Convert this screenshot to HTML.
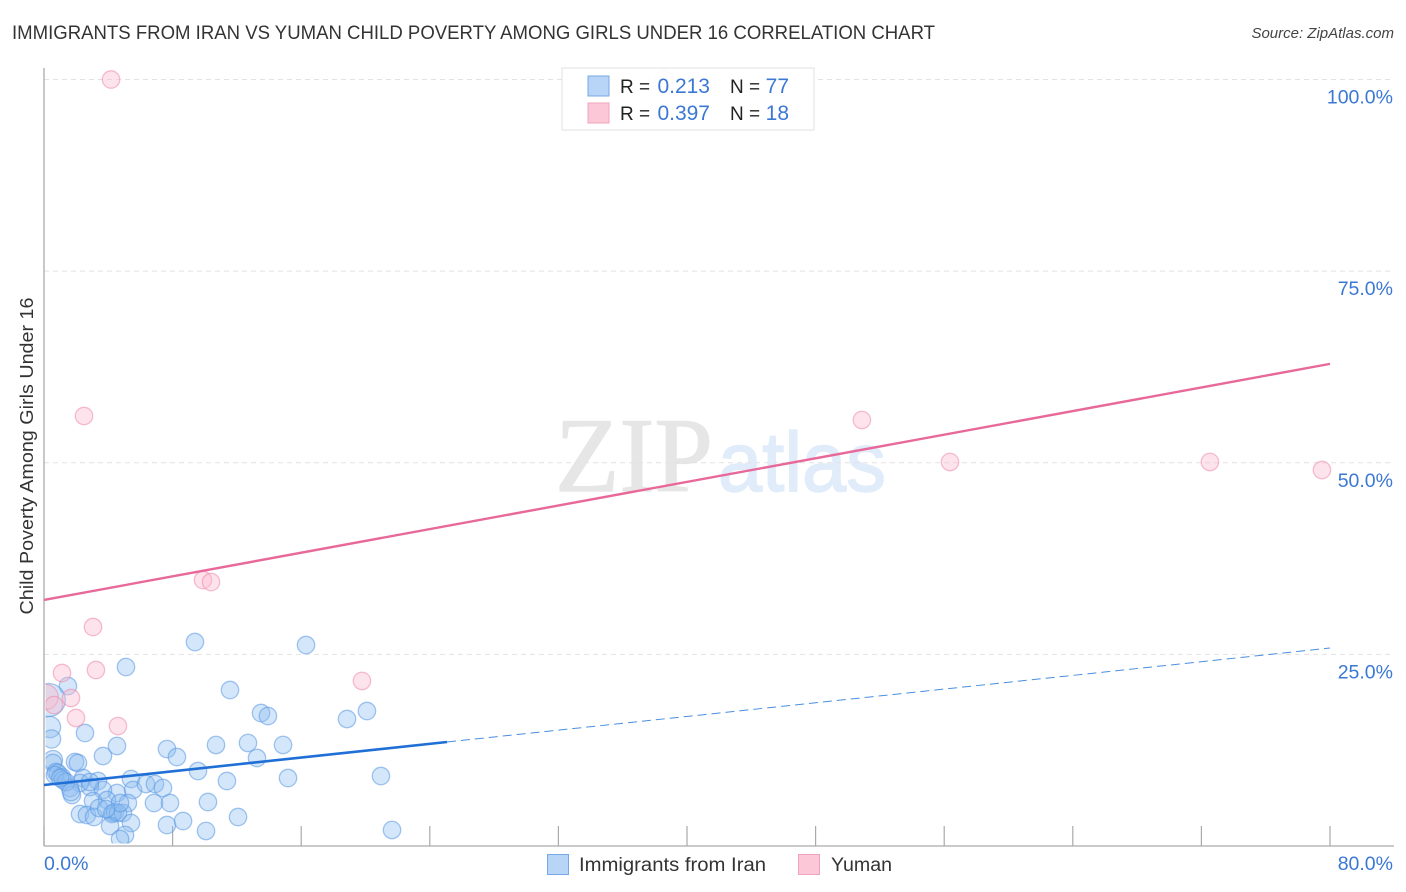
<!DOCTYPE html>
<html lang="en">
<head>
<meta charset="utf-8">
<title>Immigrants from Iran vs Yuman Child Poverty Among Girls Under 16 Correlation Chart</title>
<style>
html,body{margin:0;padding:0;background:#fff;width:1406px;height:892px;overflow:hidden}
svg{display:block;font-family:"Liberation Sans",sans-serif}
</style>
</head>
<body>
<svg id="chart" xmlns="http://www.w3.org/2000/svg" width="1406" height="892" viewBox="0 0 1406 892">
  <defs>
    <clipPath id="plot-clip"><rect x="45.5" y="60" width="1350" height="783.5"></rect></clipPath>
  </defs>
  <rect x="0" y="0" width="1406" height="892" fill="#ffffff"></rect>
  <text x="12" y="39" font-size="19" fill="#333333" textLength="923" lengthAdjust="spacingAndGlyphs">IMMIGRANTS FROM IRAN VS YUMAN CHILD POVERTY AMONG GIRLS UNDER 16 CORRELATION CHART</text>
  <text x="1394" y="38" font-size="15" font-style="italic" fill="#444444" text-anchor="end">Source: ZipAtlas.com</text>
  <text transform="translate(33,456) rotate(-90)" font-size="18" fill="#333333" text-anchor="middle" textLength="317" lengthAdjust="spacingAndGlyphs">Child Poverty Among Girls Under 16</text>
  <g>
    <text x="555" y="491" font-family="'Liberation Serif',serif" font-size="106" fill="#e6e6e6" stroke="#e6e6e6" stroke-width="1.2" textLength="158" lengthAdjust="spacingAndGlyphs">ZIP</text>
    <text x="718" y="491" font-size="84" fill="#e1ecfa" stroke="#e1ecfa" stroke-width="1.5" textLength="168" lengthAdjust="spacingAndGlyphs">atlas</text>
  </g>
  <g id="grid"></g>
  <g id="axes"></g>
  <g id="blue-points" clip-path="url(#plot-clip)"></g>
  <g id="pink-points" clip-path="url(#plot-clip)"></g>
  <g id="trends"></g>
  <g id="tick-labels"></g>

  <g>
    <rect x="562" y="68" width="252" height="62" fill="#ffffff" fill-opacity="0.92" stroke="#e2e2e2" stroke-width="1"></rect>
    <rect x="588" y="76" width="21" height="20" fill="#b8d4f7" stroke="#76a8e6" stroke-width="1"></rect>
    <rect x="588" y="103" width="21" height="20" fill="#fcc8d8" stroke="#f0a3bc" stroke-width="1"></rect>
    <text x="620" y="93" font-size="19" fill="#222222">R =</text>
    <text x="710" y="93" font-size="21" fill="#3b78d4" text-anchor="end">0.213</text>
    <text x="730" y="93" font-size="19" fill="#222222">N =</text>
    <text x="789" y="93" font-size="21" fill="#3b78d4" text-anchor="end">77</text>
    <text x="620" y="120" font-size="19" fill="#222222">R =</text>
    <text x="710" y="120" font-size="21" fill="#3b78d4" text-anchor="end">0.397</text>
    <text x="730" y="120" font-size="19" fill="#222222">N =</text>
    <text x="789" y="120" font-size="21" fill="#3b78d4" text-anchor="end">18</text>
  </g>

  <g>
    <rect x="547.5" y="854.5" width="21" height="20" fill="#b8d4f7" stroke="#76a8e6" stroke-width="1"></rect>
    <text x="579" y="871" font-size="19" fill="#333333" textLength="187" lengthAdjust="spacingAndGlyphs">Immigrants from Iran</text>
    <rect x="798.5" y="854.5" width="21" height="20" fill="#fcc8d8" stroke="#f0a3bc" stroke-width="1"></rect>
    <text x="831" y="871" font-size="19" fill="#333333" textLength="61" lengthAdjust="spacingAndGlyphs">Yuman</text>
  </g>
</svg>

<script>
var xTicks = [0, 8, 16, 24, 32, 40, 48, 56, 64, 72, 80];
var yGridValues = [100, 75, 50, 25];
var yTickLabels = ["100.0%", "75.0%", "50.0%", "25.0%"];
var xEndLabels = ["0.0%", "80.0%"];

var iranX = [9.39,5.10,11.57,1.49,0.30,0.37,0.47,2.55,4.54,3.67,7.65,8.27,10.70,12.69,9.58,11.38,1.93,2.11,0.56,0.56,
  0.75,0.87,1.12,0.68,1.18,2.43,3.36,2.86,2.24,1.62,1.74,5.41,5.54,6.34,6.90,7.40,4.54,3.67,3.05,3.92,
  5.22,2.24,2.67,3.11,3.42,4.29,4.23,4.42,4.91,4.60,6.84,7.84,10.20,7.65,8.65,10.08,12.07,5.41,4.11,5.04,
  4.73,16.30,20.09,18.85,13.50,13.93,14.87,13.25,15.18,20.96,21.65,1.37,1.68,4.73,3.86,2.86,1.00];
var iranY = [26.61,23.35,20.35,20.87,19.05,15.52,13.96,14.74,13.05,11.74,12.65,11.61,13.18,13.44,9.78,8.48,10.96,10.83,11.22,10.83,
  9.65,9.52,9.00,9.26,8.61,8.87,8.48,7.70,8.22,7.57,6.65,8.74,7.31,8.09,8.09,7.57,6.91,7.31,5.87,6.00,
  5.61,4.17,4.04,3.78,4.96,4.31,4.17,4.44,4.31,4.31,5.61,5.61,5.74,2.74,3.26,1.96,3.78,3.00,2.61,1.44,
  0.91,26.22,17.61,16.57,17.35,16.96,13.18,11.48,8.87,9.13,2.09,8.35,7.04,5.61,4.83,8.35,8.87];
var iranWeight = [1,1,1,1,3.6,1.5,1.1,1,1,1,1,1,1,1,1,1,1,1,1.2,1,
  1,1,1,1,1,1,1,1,1,1,1,1,1,1,1,1,1,1,1,1,
  1,1,1,1,1,1,1,1,1,1,1,1,1,1,1,1,1,1,1,1,
  1,1,1,1,1,1,1,1,1,1,1,1,1,1,1,1,1];

var yumanX = [4.17,2.49,50.88,56.36,72.53,79.50,9.89,10.39,3.05,1.12,3.23,1.68,19.78,4.60,1.99,38.57,0.10,0.62];
var yumanY = [100,56.10,55.58,50.10,50.10,49.05,34.70,34.44,28.57,22.57,22.96,19.31,21.53,15.65,16.70,100,19.44,18.39];
var yumanWeight = [1,1,1,1,1,1,1,1,1,1,1,1,1,1,1,1,2.1,1];

var iranSolidTrendX = [0, 25.07];
var iranSolidTrendY = [7.96, 13.57];
var iranDashedTrendX = [25.07, 80];
var iranDashedTrendY = [13.57, 25.83];
var yumanTrendX = [0, 80];
var yumanTrendY = [32.1, 62.9];

var NS = "http://www.w3.org/2000/svg";
function sx(v) { return 44 + v * (1330 - 44) / 80; }
function sy(v) { return 846 - v * (846 - 79.5) / 100; }

function make(tag, attrs, parentId) {
  var el = document.createElementNS(NS, tag);
  for (var k in attrs) el.setAttribute(k, attrs[k]);
  document.getElementById(parentId).appendChild(el);
  return el;
}

yGridValues.forEach(function (v) {
  var line = make("line", { x1: 44, x2: 1394, y1: sy(v), y2: sy(v), stroke: "#e2e2e2", "stroke-width": 1, "stroke-dasharray": "5 4" }, "grid");
  
  
});

var yAxisLine = make("line", { x1: 44, x2: 44, y1: 68, y2: 846, stroke: "#aaaaaa", "stroke-width": 1.3 }, "axes");


var xAxisLine = make("line", { x1: 44, x2: 1394, y1: 846, y2: 846, stroke: "#aaaaaa", "stroke-width": 1.3 }, "axes");



xTicks.forEach(function (v) {
  var tick = make("line", { x1: sx(v), x2: sx(v), y1: 826, y2: 846, stroke: "#aaaaaa", "stroke-width": 1.2 }, "axes");
  
  
});

yTickLabels.forEach(function (label, i) {
  var t = make("text", { x: 1393, y: sy(yGridValues[i]) + 24, "font-size": 19.5, fill: "#3b78d4", "text-anchor": "end" }, "tick-labels");
  t.textContent = label;
  
  
});

var xLabelLeft = make("text", { x: 44, y: 870, "font-size": 19.5, fill: "#3b78d4" }, "tick-labels");
xLabelLeft.textContent = xEndLabels[0];


var xLabelRight = make("text", { x: 1393, y: 870, "font-size": 19.5, fill: "#3b78d4", "text-anchor": "end" }, "tick-labels");
xLabelRight.textContent = xEndLabels[1];



iranX.forEach(function (v, i) {
  var c = make("circle", { cx: sx(v), cy: sy(iranY[i]), r: 8.7 * Math.sqrt(iranWeight[i]), fill: "#8fbcf0", "fill-opacity": 0.38, stroke: "#5a98e4", "stroke-opacity": 0.55, "stroke-width": 1.3 }, "blue-points");
  
  
});

yumanX.forEach(function (v, i) {
  var c = make("circle", { cx: sx(v), cy: sy(yumanY[i]), r: 8.7 * Math.sqrt(yumanWeight[i]), fill: "#fbbcd0", "fill-opacity": 0.42, stroke: "#ee8aac", "stroke-opacity": 0.55, "stroke-width": 1.3 }, "pink-points");
  
  
});

var iranSolid = make("line", { x1: sx(iranSolidTrendX[0]), x2: sx(iranSolidTrendX[1]), y1: sy(iranSolidTrendY[0]), y2: sy(iranSolidTrendY[1]), stroke: "#1f6fd6", "stroke-width": 2.6 }, "trends");


var iranDashed = make("line", { x1: sx(iranDashedTrendX[0]), x2: sx(iranDashedTrendX[1]), y1: sy(iranDashedTrendY[0]), y2: sy(iranDashedTrendY[1]), stroke: "#4a8ee0", "stroke-width": 1, "stroke-dasharray": "9 5" }, "trends");


var yumanTrend = make("line", { x1: sx(yumanTrendX[0]), x2: sx(yumanTrendX[1]), y1: sy(yumanTrendY[0]), y2: sy(yumanTrendY[1]), stroke: "#e8689a", "stroke-width": 2.4 }, "trends");


</script>
</body>
</html>
